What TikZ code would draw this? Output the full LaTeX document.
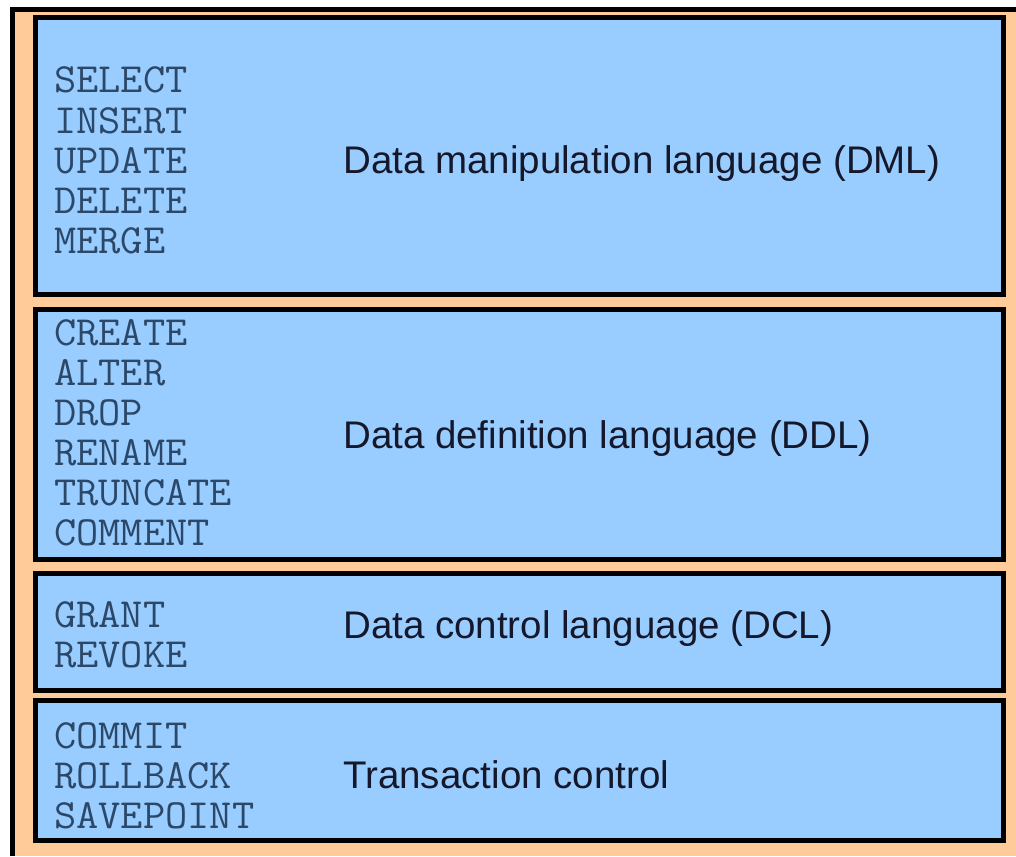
\documentclass[tikz,border=0pt]{standalone}
\usepackage{fontspec}
\setmainfont{Liberation Sans}
\newfontfamily\kwfont[FakeStretch=1.04]{Latin Modern Mono}
\definecolor{boxblue}{HTML}{99CCFF}
\definecolor{bgorange}{HTML}{FFCC99}
\definecolor{kwblue}{HTML}{2C4868}
\definecolor{labtext}{HTML}{15182A}
\begin{document}
\begin{tikzpicture}[x=1pt,y=-1pt,
  panel/.style={draw=black,line width=5pt,fill=boxblue},
  kw/.style={anchor=base west,inner sep=0pt,text=kwblue,font=\kwfont\fontsize{41.5}{40}\selectfont},
  lab/.style={anchor=base west,inner sep=0pt,text=labtext,font=\fontsize{38.5}{44}\selectfont}]
\useasboundingbox (0,0) rectangle (1016,856);
\fill[white] (0,0) rectangle (1016,856);
\fill[bgorange] (12,10) rectangle (1016,856);
\draw[line width=5pt] (12,856) -- (12,10) -- (1016,10);
% panels
\path[panel] (35,18) rectangle (1003,294);
\path[panel] (35,309) rectangle (1003,559);
\path[panel] (35,573) rectangle (1003,690);
\path[panel] (35,700) rectangle (1003,840);
% DML
\foreach \t [count=\i] in {SELECT,INSERT,UPDATE,DELETE,MERGE}
  \node[kw] (dml\i) at (54,{93+40*(\i-1)}) {\t};
\node[lab] (dml) at (343,173) {Data manipulation language (DML)};
% DDL
\foreach \t [count=\i] in {CREATE,ALTER,DROP,RENAME,TRUNCATE,COMMENT}
  \node[kw] (ddl\i) at (54,{345+40*(\i-1)}) {\t};
\node[lab] (ddl) at (343,448) {Data definition language (DDL)};
% DCL
\foreach \t [count=\i] in {GRANT,REVOKE}
  \node[kw] (dcl\i) at (54,{627+40*(\i-1)}) {\t};
\node[lab] (dcl) at (343,638) {Data control language (DCL)};
% TC
\foreach \t [count=\i] in {COMMIT,ROLLBACK,SAVEPOINT}
  \node[kw] (tc\i) at (54,{748+40*(\i-1)}) {\t};
\node[lab] (tc) at (343,788) {Transaction control};
\end{tikzpicture}
\end{document}
